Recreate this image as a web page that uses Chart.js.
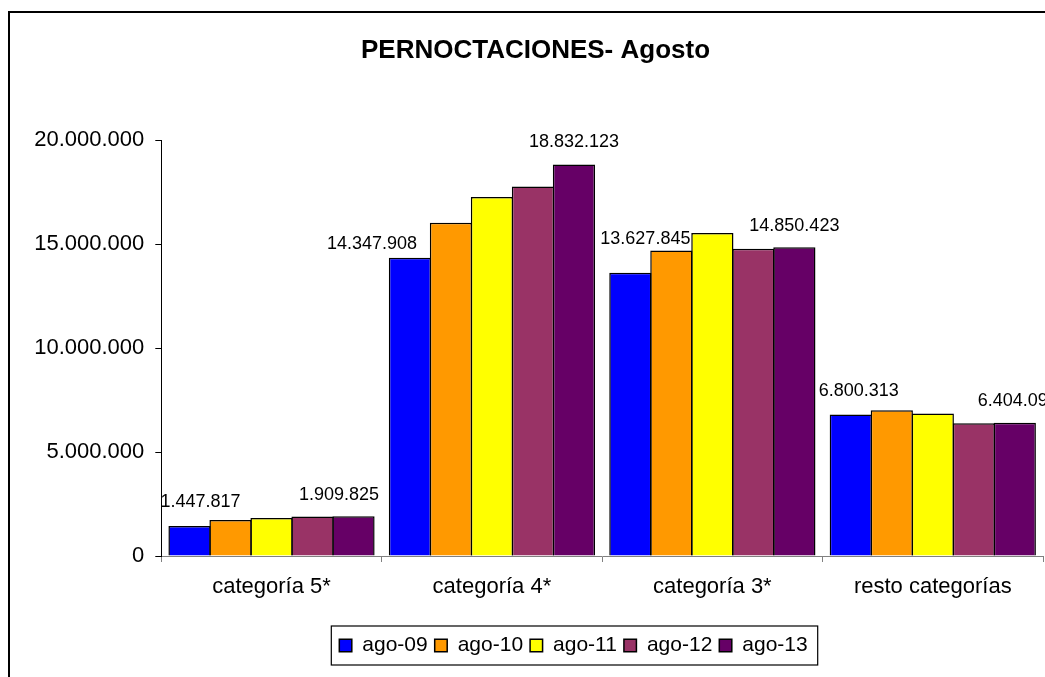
<!DOCTYPE html>
<html>
<head>
<meta charset="utf-8">
<title>PERNOCTACIONES- Agosto</title>
<script src="https://cdn.jsdelivr.net/npm/chart.js@4/dist/chart.umd.min.js"></script>
<style>
    body { margin: 0; background: #fff; }
    #wrap { width: 1045px; height: 677px; }
</style>
</head>
<body>
<div id="wrap"><canvas id="myChart" width="1045" height="677"></canvas></div>
<script>
'use strict';

const categories = ['categoría 5*', 'categoría 4*', 'categoría 3*', 'resto categorías'];
const seriesNames = ['ago-09', 'ago-10', 'ago-11', 'ago-12', 'ago-13'];
const ago09 = [1447817, 14347908, 13627845, 6800313];
const ago10 = [1730000, 16030000, 14700000, 7010000];
const ago11 = [1830000, 17270000, 15540000, 6860000];
const ago12 = [1900000, 17770000, 14780000, 6390000];
const ago13 = [1909825, 18832123, 14850423, 6404090];
const yTicks = [0, 5000000, 10000000, 15000000, 20000000];

const colors = ['#0000FF', '#FF9900', '#FFFF00', '#993366', '#660066'];
const FONT = '"Liberation Sans", Arial, sans-serif';

// 1234567 -> "1.234.567"
function fmt(v) {
    return String(v).replace(/\B(?=(\d{3})+(?!\d))/g, '.');
}

// marco exterior (solo se ven borde izquierdo y superior)
const frame = {
    id: 'frame',
    beforeDraw(chart) {
        const ctx = chart.ctx;
        ctx.save();
        ctx.strokeStyle = '#000';
        ctx.lineWidth = 2;
        ctx.beginPath();
        ctx.moveTo(9, chart.height + 5);
        ctx.lineTo(9, 12);
        ctx.lineTo(chart.width + 5, 12);
        ctx.stroke();
        ctx.restore();
    }
};

// la leyenda de excel no va centrada con el titulo
const legendShift = {
    id: 'legendShift',
    afterLayout(chart, args, opts) {
        chart.legend.left += opts.dx;
        chart.legend.right += opts.dx;
    }
};

const legendBorder = {
    id: 'legendBorder',
    afterDraw(chart) {
        const boxes = chart.legend.legendHitBoxes;
        if (!boxes || !boxes.length) return;
        const l = boxes[0].left - 8;
        const r = boxes[boxes.length - 1].left + boxes[boxes.length - 1].width + 10;
        const t = boxes[0].top - 9;
        const b = boxes[0].top + boxes[0].height + 9;
        const ctx = chart.ctx;
        ctx.save();
        ctx.strokeStyle = '#000';
        ctx.lineWidth = 1.2;
        ctx.strokeRect(l, t, r - l, b - t);
        ctx.restore();
    }
};

// etiquetas de valor solo para ago-09 y ago-13
const valueLabels = {
    id: 'valueLabels',
    afterDatasetsDraw(chart, args, opts) {
        const ctx = chart.ctx;
        ctx.save();
        ctx.font = '18px ' + FONT;
        ctx.fillStyle = '#000';
        ctx.textAlign = 'center';
        ctx.textBaseline = 'alphabetic';
        opts.series.forEach(di => {
            const meta = chart.getDatasetMeta(di);
            const data = chart.data.datasets[di].data;
            meta.data.forEach((bar, i) => {
                const n = (opts.nudge[di] && opts.nudge[di][i]) || [0, 17];
                ctx.fillText(fmt(data[i]), bar.x + n[0], bar.y - n[1]);
            });
        });
        ctx.restore();
    }
};

const seriesData = [ago09, ago10, ago11, ago12, ago13];

const config = {
    type: 'bar',
    data: {
        labels: categories,
        datasets: seriesNames.map((name, k) => ({
            label: name,
            data: seriesData[k],
            backgroundColor: colors[k],
            borderColor: '#000',
            borderWidth: 1.5,
            categoryPercentage: 0.93,
            barPercentage: 1.03
        }))
    },
    options: {
        responsive: false,
        animation: false,
        layout: {
            padding: { left: 28, right: 2, top: 0, bottom: 11 }
        },
        plugins: {
            title: {
                display: true,
                text: 'PERNOCTACIONES- Agosto',
                color: '#000',
                font: { family: FONT, size: 26, weight: 'bold', lineHeight: 1.2 },
                padding: { top: 35, bottom: 74 }
            },
            legend: {
                position: 'bottom',
                labels: {
                    color: '#000',
                    font: { family: FONT, size: 21 },
                    boxWidth: 12.5,
                    boxHeight: 12.5,
                    padding: 7
                }
            },
            tooltip: { enabled: false },
            legendShift: { dx: 38 },
            valueLabels: {
                series: [0, 4],
                // [dx, distancia sobre la barra]
                nudge: {
                    0: [[11, 18.7], [-38, 9], [15, 29], [8, 19]],
                    4: [[-14.5, 16.7], [0, 17.3], [0, 16.7], [3, 17]]
                }
            }
        },
        scales: {
            x: {
                grid: {
                    drawOnChartArea: false,
                    tickLength: 6,
                    color: '#808080',
                    offset: true
                },
                border: { color: '#808080', width: 1 },
                ticks: {
                    color: '#000',
                    font: { family: FONT, size: 22 },
                    padding: 12
                },
                afterFit: s => { s.height = 72; }
            },
            y: {
                min: 0,
                max: 20000000,
                afterBuildTicks: s => { s.ticks = yTicks.map(v => ({ value: v })); },
                grid: {
                    drawOnChartArea: false,
                    tickLength: 6,
                    color: '#000'
                },
                border: { color: '#000', width: 1 },
                ticks: {
                    color: '#000',
                    font: { family: FONT, size: 22 },
                    padding: 11,
                    callback: v => fmt(v)
                },
                afterFit: s => { s.width = 133.3; }
            }
        }
    },
    plugins: [frame, legendShift, legendBorder, valueLabels]
};

const myChart = new Chart(document.getElementById('myChart'), config);
</script>
</body>
</html>
